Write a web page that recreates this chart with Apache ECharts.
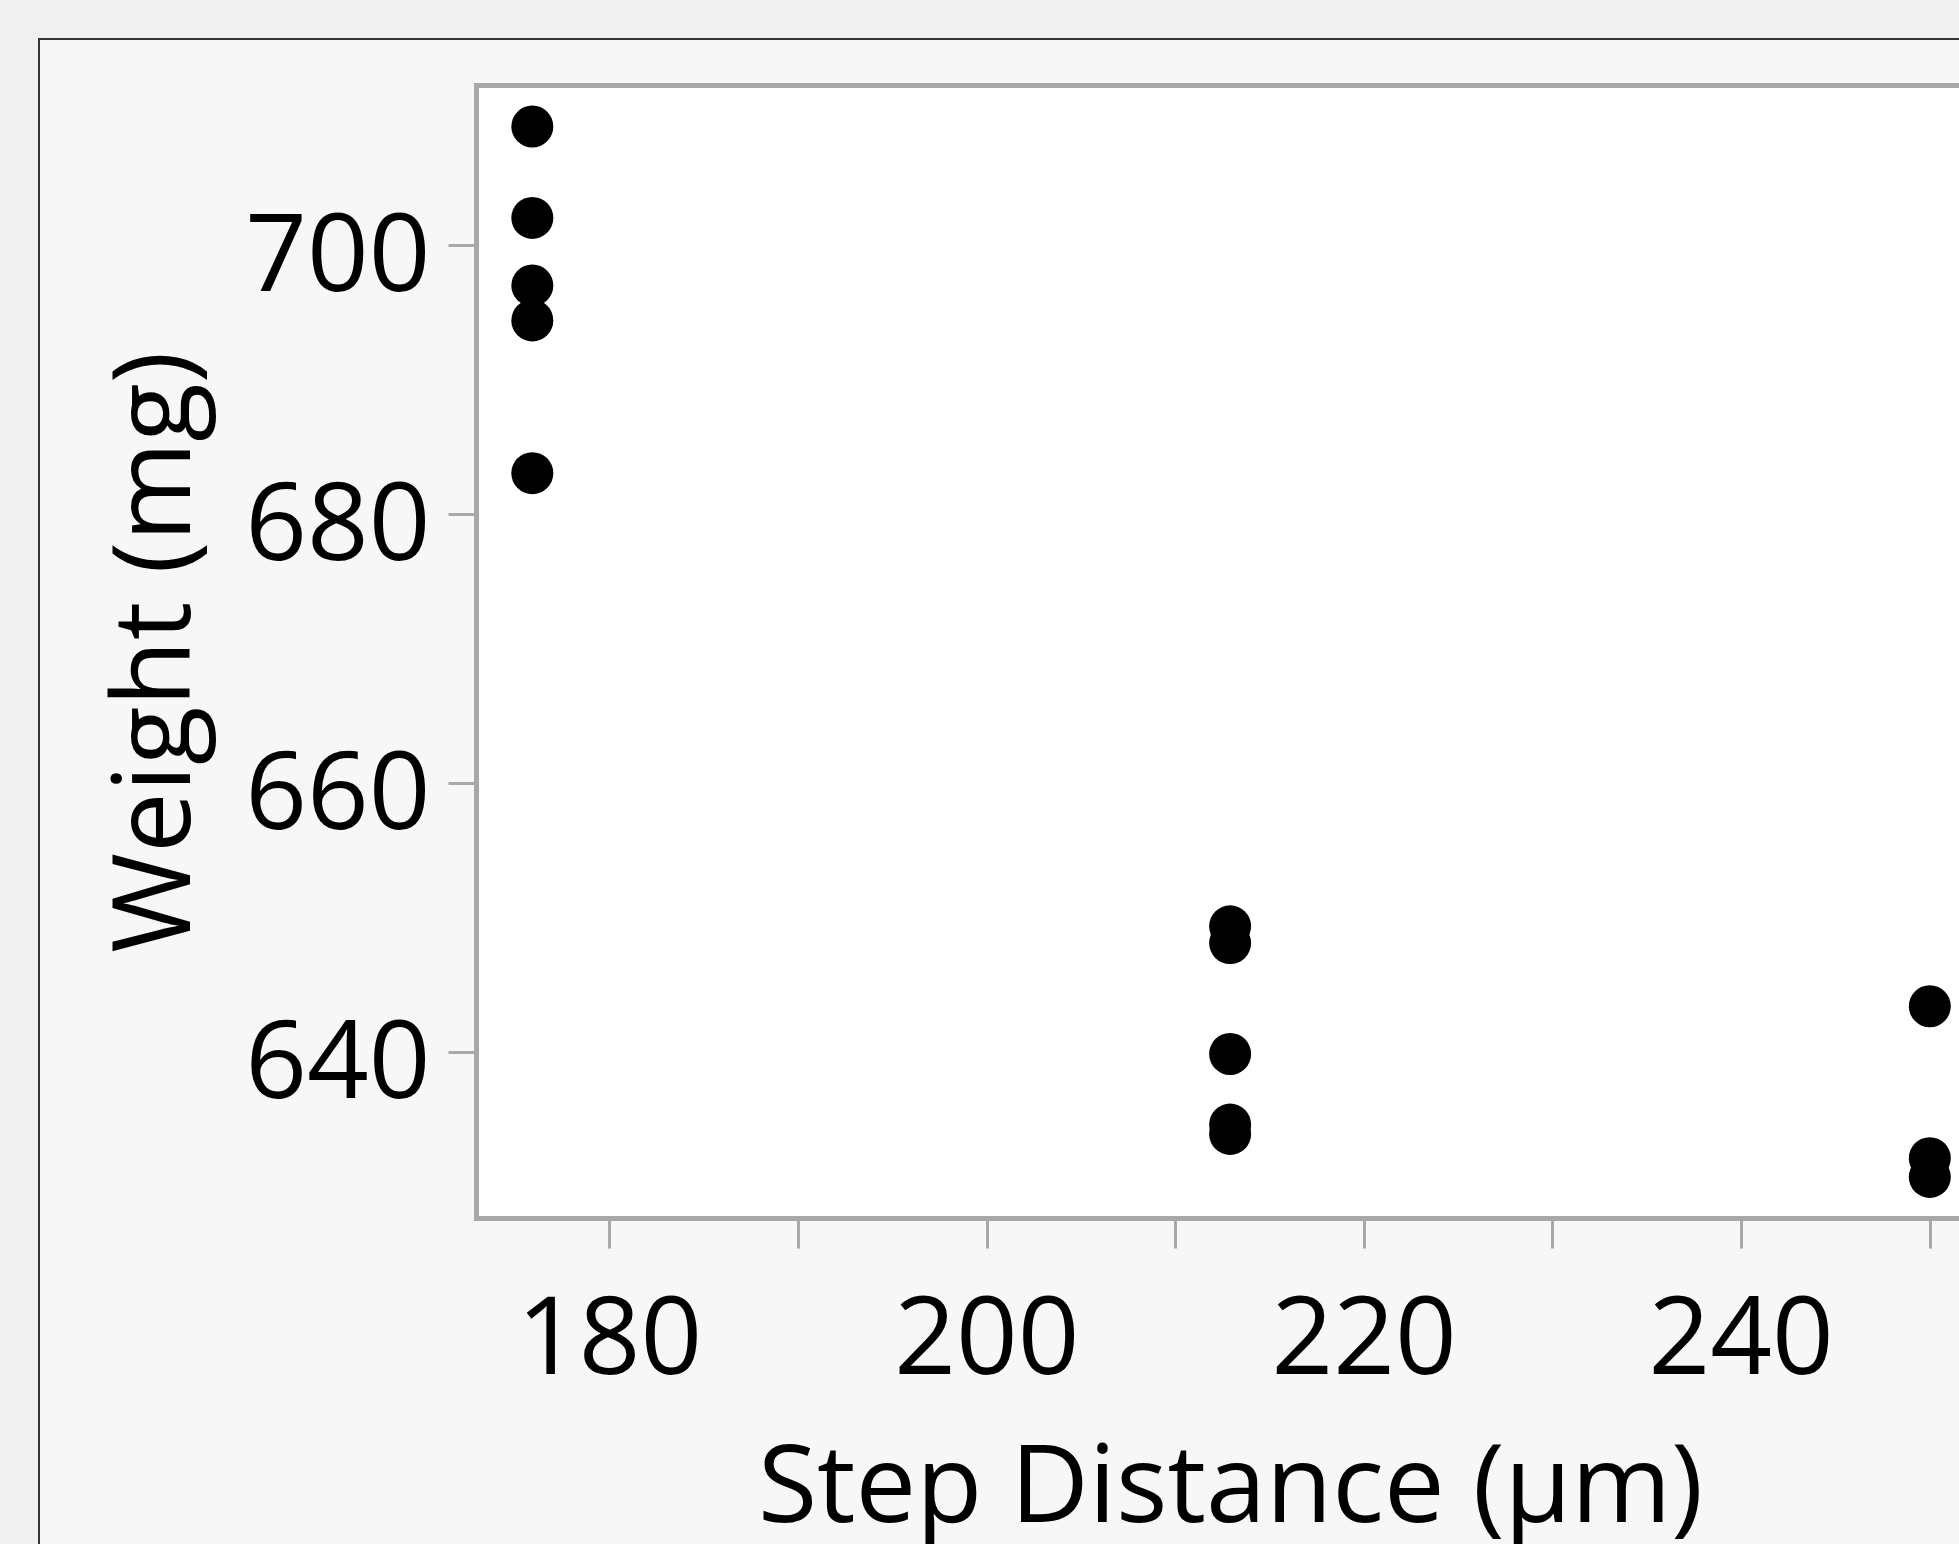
<!DOCTYPE html>
<html>
<head>
<meta charset="utf-8">
<script src="https://cdn.jsdelivr.net/npm/echarts@6/dist/echarts.min.js"></script>
<style>
  html, body { margin: 0; padding: 0; width: 1959px; height: 1544px; overflow: hidden; background: #f0f0f0; }
  #frame { position: absolute; left: 38px; top: 38px; width: 2200px; height: 1800px; border: 2px solid #333; background: #f7f7f7; }
  #chart { position: absolute; left: 0; top: 0; width: 2100px; height: 1700px; }
</style>
</head>
<body>
<div id="frame"></div>
<div id="chart"></div>
<script>
// Data
const stepDistance = [175.9, 175.9, 175.9, 175.9, 175.9,
                      212.9, 212.9, 212.9, 212.9, 212.9,
                      250, 250, 250];
const weight = [708.85, 702.05, 697.02, 694.42, 683.06,
                649.35, 648.1, 639.85, 634.6, 633.9,
                643.4, 632.1, 630.7];
const xTickValues = [180, 190, 200, 210, 220, 230, 240, 250, 260];
const xLabelValues = [180, 200, 220, 240, 260];
const yTickValues = [640, 660, 680, 700];
const xTitle = 'Step Distance (µm)';
const yTitle = 'Weight (mg)';

const points = stepDistance.map((x, i) => [x, weight[i]]);
const font = "'Open Sans', 'Noto Sans', sans-serif";

const chart = echarts.init(document.getElementById('chart'), null, { renderer: 'canvas' });
chart.setOption({
  animation: false,
  backgroundColor: 'transparent',
  grid: {
    left: 476.5, top: 85.5, width: 1508, height: 1133,
    show: true, backgroundColor: '#ffffff', borderColor: '#a8a8a8', borderWidth: 5
  },
  xAxis: {
    type: 'value', min: 172.94, max: 252.9,
    axisLine: { show: false },
    splitLine: { show: false },
    axisTick: { show: true, customValues: xTickValues, length: 30, lineStyle: { color: '#a8a8a8', width: 3 } },
    axisLabel: { customValues: xLabelValues, margin: 71, color: '#000', fontSize: 108, fontFamily: font },
    name: xTitle, nameLocation: 'middle', nameGap: 219,
    nameTextStyle: { color: '#000', fontSize: 108, fontFamily: font }
  },
  yAxis: {
    type: 'value', min: 627.61, max: 711.9,
    axisLine: { show: false },
    splitLine: { show: false },
    axisTick: { show: true, customValues: yTickValues, length: 28, lineStyle: { color: '#a8a8a8', width: 3 } },
    axisLabel: { customValues: yTickValues, margin: 46, color: '#000', fontSize: 108, fontFamily: font,
                 verticalAlign: 'top', lineHeight: 30 },
    name: yTitle, nameLocation: 'middle', nameGap: 263,
    nameTextStyle: { color: '#000', fontSize: 108, fontFamily: font }
  },
  series: [{
    type: 'scatter',
    data: points,
    symbol: 'circle',
    symbolSize: 42,
    itemStyle: { color: '#000', opacity: 1 },
    clip: true
  }]
});
</script>
</body>
</html>
